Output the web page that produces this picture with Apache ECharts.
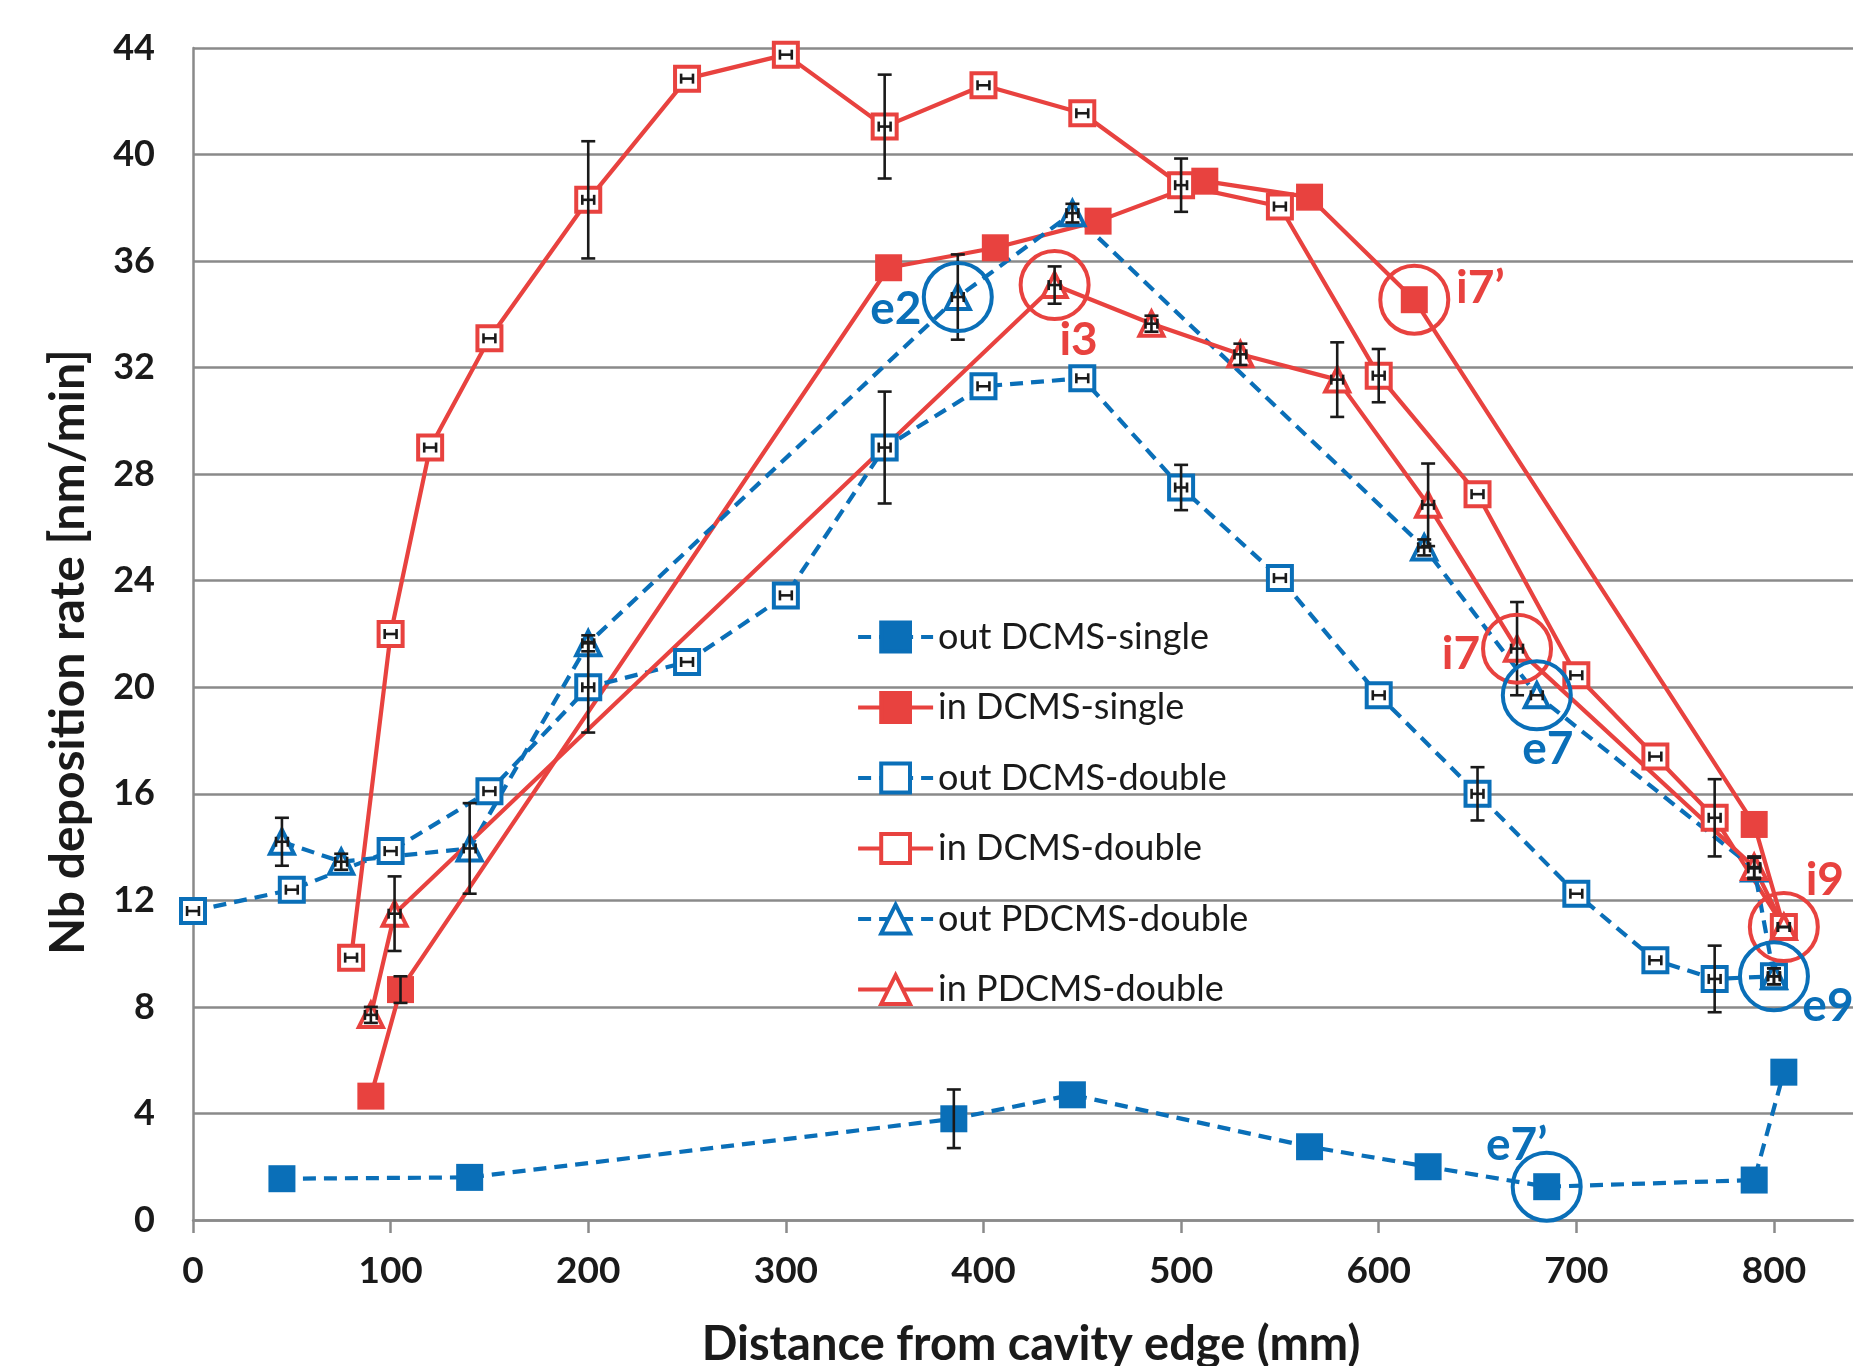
<!DOCTYPE html>
<html>
<head>
<meta charset="utf-8">
<script src="https://cdn.jsdelivr.net/npm/echarts@6/dist/echarts.min.js"></script>
<style>
html, body { margin: 0; padding: 0; background: #fff; }
#chart { width: 1854px; height: 1366px; }
</style>
</head>
<body>
<div id="chart"></div>
<script>
// values: distance (mm), rate (nm/min), y error
const outSingleX = [45, 140, 385, 445, 565, 625, 685, 790, 805];
const outSingleY = [1.55, 1.6, 3.8, 4.7, 2.75, 2.0, 1.25, 1.5, 5.55];
const outSingleErr = [0, 0, 1.1, 0, 0, 0, 0, 0, 0];

const inSingleX = [90, 105, 352, 406, 458, 512, 565, 618, 790, 805];
const inSingleY = [4.65, 8.65, 35.75, 36.5, 37.5, 39.0, 38.4, 34.55, 14.85, 11.0];
const inSingleErr = [0, 0.5, 0, 0, 0, 0, 0, 0, 0, 0];

const outDoubleX = [0, 50, 100, 150, 200, 250, 300, 350, 400, 450, 500, 550, 600, 650, 700, 740, 770, 800];
const outDoubleY = [11.6, 12.4, 13.85, 16.1, 20.0, 20.95, 23.45, 29.0, 31.3, 31.6, 27.5, 24.1, 19.7, 16.0, 12.25, 9.75, 9.05, 9.15];
const outDoubleErr = [0, 0, 0, 0, 1.7, 0, 0, 2.1, 0, 0, 0.85, 0, 0, 1.0, 0, 0, 1.25, 0.3];

const inDoubleX = [80, 100, 120, 150, 200, 250, 300, 350, 400, 450, 500, 550, 600, 650, 700, 740, 770, 805];
const inDoubleY = [9.85, 22.0, 29.0, 33.1, 38.3, 42.85, 43.75, 41.05, 42.6, 41.55, 38.85, 38.05, 31.7, 27.25, 20.45, 17.4, 15.1, 11.0];
const inDoubleErr = [0, 0, 0, 0, 2.2, 0, 0, 1.95, 0, 0, 1.0, 0, 1.0, 0, 0, 0, 1.45, 0];

const outPdX = [45, 75, 140, 200, 387, 445, 623, 680, 790, 800];
const outPdY = [14.2, 13.45, 13.95, 21.65, 34.65, 37.8, 25.25, 19.7, 13.2, 9.15];
const outPdErr = [0.9, 0.3, 1.7, 0.3, 1.6, 0.35, 0.3, 0, 0.4, 0.3];

const inPdX = [90, 102, 436, 485, 530, 579, 625, 670, 790, 805];
const inPdY = [7.7, 11.5, 35.1, 33.65, 32.5, 31.55, 26.85, 21.45, 13.25, 11.0];
const inPdErr = [0.3, 1.4, 0.7, 0.3, 0.4, 1.4, 1.55, 1.75, 0.4, 0];

const xTicks = [0, 100, 200, 300, 400, 500, 600, 700, 800];
const yTicks = [0, 4, 8, 12, 16, 20, 24, 28, 32, 36, 40, 44];

// circled points and their labels
const annoX = [387, 436, 618, 670, 680, 805, 800, 685];
const annoY = [34.65, 35.1, 34.55, 21.45, 19.7, 11.0, 9.15, 1.25];
const annoText = ['e2', 'i3', 'i7’', 'i7', 'e7', 'i9', 'e9', 'e7’'];

const BLUE = '#0a6fb8';
const RED = '#e8423f';
const FONT = 'Lato, "Open Sans", sans-serif';

// label offsets (px) from circle centre
const annoOffset = {
    'e2': [-62, 12], 'i3': [24, 55], 'i7’': [66, -12], 'i7': [-56, 6],
    'e7': [11, 54], 'i9': [41, -47], 'e9': [54, 30], 'e7’': [-30, -42]
};

function pts(xs, ys) {
    return xs.map((x, i) => [x, ys[i]]);
}

function lineSeries(name, xs, ys, color, dashed, symbol, filled, size) {
    return {
        name: name,
        type: 'line',
        data: pts(xs, ys),
        symbol: symbol,
        symbolSize: size,
        showAllSymbol: true,
        lineStyle: { color: color, width: 4.2, type: dashed ? [13, 8] : 'solid' },
        itemStyle: filled
            ? { color: color, borderColor: color, borderWidth: 0 }
            : { color: '#fff', borderColor: color, borderWidth: 4 },
        emphasis: { disabled: true },
        z: 2
    };
}

function errSeries(xs, ys, errs, xErr) {
    return {
        type: 'custom',
        silent: true,
        z: 4,
        encode: { x: 0, y: 1 },
        data: xs.map((x, i) => [x, ys[i], errs[i], xErr]),
        renderItem: function (params, api) {
            const x = api.value(0), y = api.value(1), ey = api.value(2), ex = api.value(3);
            const st = { stroke: '#1a1a1a', lineWidth: 2.6 };
            const kids = [];
            if (ey > 0) {
                const t = api.coord([x, y + ey]);
                const b = api.coord([x, y - ey]);
                kids.push({ type: 'line', shape: { x1: t[0], y1: t[1], x2: b[0], y2: b[1] }, style: st });
                kids.push({ type: 'line', shape: { x1: t[0] - 7, y1: t[1], x2: t[0] + 7, y2: t[1] }, style: st });
                kids.push({ type: 'line', shape: { x1: b[0] - 7, y1: b[1], x2: b[0] + 7, y2: b[1] }, style: st });
            }
            if (ex > 0) {
                const l = api.coord([x - ex, y]);
                const r = api.coord([x + ex, y]);
                kids.push({ type: 'line', shape: { x1: l[0], y1: l[1], x2: r[0], y2: r[1] }, style: st });
                kids.push({ type: 'line', shape: { x1: l[0], y1: l[1] - 5, x2: l[0], y2: l[1] + 5 }, style: st });
                kids.push({ type: 'line', shape: { x1: r[0], y1: r[1] - 5, x2: r[0], y2: r[1] + 5 }, style: st });
            }
            return { type: 'group', children: kids };
        }
    };
}

const chart = echarts.init(document.getElementById('chart'));

const option = {
    animation: false,
    backgroundColor: '#fff',
    grid: { left: 193, right: 1, top: 48, bottom: 146, outerBoundsMode: 'none', containLabel: false },
    legend: {
        orient: 'vertical',
        left: 851,
        top: 614,
        itemWidth: 75,
        itemHeight: 36,
        itemGap: 34.5,
        lineStyle: { width: 4.2 },
        itemStyle: { borderWidth: 4 },
        textStyle: { fontFamily: FONT, fontSize: 36, lineHeight: 36, color: '#1a1a1a' },
        data: ['out DCMS-single', 'in DCMS-single', 'out DCMS-double',
            'in DCMS-double', 'out PDCMS-double', 'in PDCMS-double']
    },
    xAxis: {
        type: 'value',
        min: 0,
        max: 840,
        interval: 100,
        name: 'Distance from cavity edge (mm)',
        nameLocation: 'middle',
        nameGap: 101,
        nameTextStyle: {
            fontFamily: FONT, fontSize: 47, fontWeight: 'bold', color: '#1a1a1a',
            padding: [0, 0, 0, 16]
        },
        axisLine: { lineStyle: { color: '#8a8a8a', width: 2.5 } },
        axisTick: { show: true, length: 13, lineStyle: { color: '#8a8a8a', width: 2.5 } },
        axisLabel: {
            margin: 33,
            fontFamily: FONT, fontSize: 37, fontWeight: 'bold', color: '#1a1a1a',
            showMaxLabel: false,
            formatter: v => (xTicks.includes(v) ? String(v) : '')
        },
        splitLine: { show: false }
    },
    yAxis: {
        type: 'value',
        min: 0,
        max: 44,
        interval: 4,
        name: 'Nb deposition rate [nm/min]',
        nameLocation: 'middle',
        nameGap: 100,
        nameTextStyle: {
            fontFamily: FONT, fontSize: 48, fontWeight: 'bold', color: '#1a1a1a',
            padding: [0, 36, 0, 0]
        },
        axisLine: { show: true, lineStyle: { color: '#8a8a8a', width: 2.5 } },
        axisTick: { show: false },
        axisLabel: {
            margin: 38,
            fontFamily: FONT, fontSize: 36, fontWeight: 'bold', color: '#1a1a1a',
            formatter: v => (yTicks.includes(v) ? String(v) : '')
        },
        splitLine: { show: true, lineStyle: { color: '#8a8a8a', width: 2.5 } }
    },
    series: [
        lineSeries('out DCMS-single', outSingleX, outSingleY, BLUE, true, 'rect', true, 27),
        lineSeries('in DCMS-single', inSingleX, inSingleY, RED, false, 'rect', true, 27),
        lineSeries('out DCMS-double', outDoubleX, outDoubleY, BLUE, true, 'rect', false, 24),
        lineSeries('in DCMS-double', inDoubleX, inDoubleY, RED, false, 'rect', false, 24),
        lineSeries('out PDCMS-double', outPdX, outPdY, BLUE, true, 'triangle', false, 24),
        lineSeries('in PDCMS-double', inPdX, inPdY, RED, false, 'triangle', false, 24),
        errSeries(outSingleX, outSingleY, outSingleErr, 0),
        errSeries(inSingleX, inSingleY, inSingleErr, 0),
        errSeries(outDoubleX, outDoubleY, outDoubleErr, 3),
        errSeries(inDoubleX, inDoubleY, inDoubleErr, 3),
        errSeries(outPdX, outPdY, outPdErr, 3),
        errSeries(inPdX, inPdY, inPdErr, 3),
        {
            type: 'custom',
            silent: true,
            z: 5,
            encode: { x: 0, y: 1 },
            data: annoX.map((x, i) => [x, annoY[i], i]),
            renderItem: function (params, api) {
                const c = api.coord([api.value(0), api.value(1)]);
                const txt = annoText[api.value(2)];
                const col = txt.charAt(0) === 'i' ? RED : BLUE;
                const off = annoOffset[txt];
                return {
                    type: 'group',
                    children: [
                        { type: 'circle', shape: { cx: c[0], cy: c[1], r: 34 },
                          style: { fill: 'none', stroke: col, lineWidth: 4 } },
                        { type: 'text', x: c[0] + off[0], y: c[1] + off[1],
                          style: { text: txt, fill: col, font: 'bold 46px ' + FONT,
                                   align: 'center', verticalAlign: 'middle' } }
                    ]
                };
            }
        }
    ]
};

chart.setOption(option);
window.addEventListener('resize', () => chart.resize());
</script>
</body>
</html>
